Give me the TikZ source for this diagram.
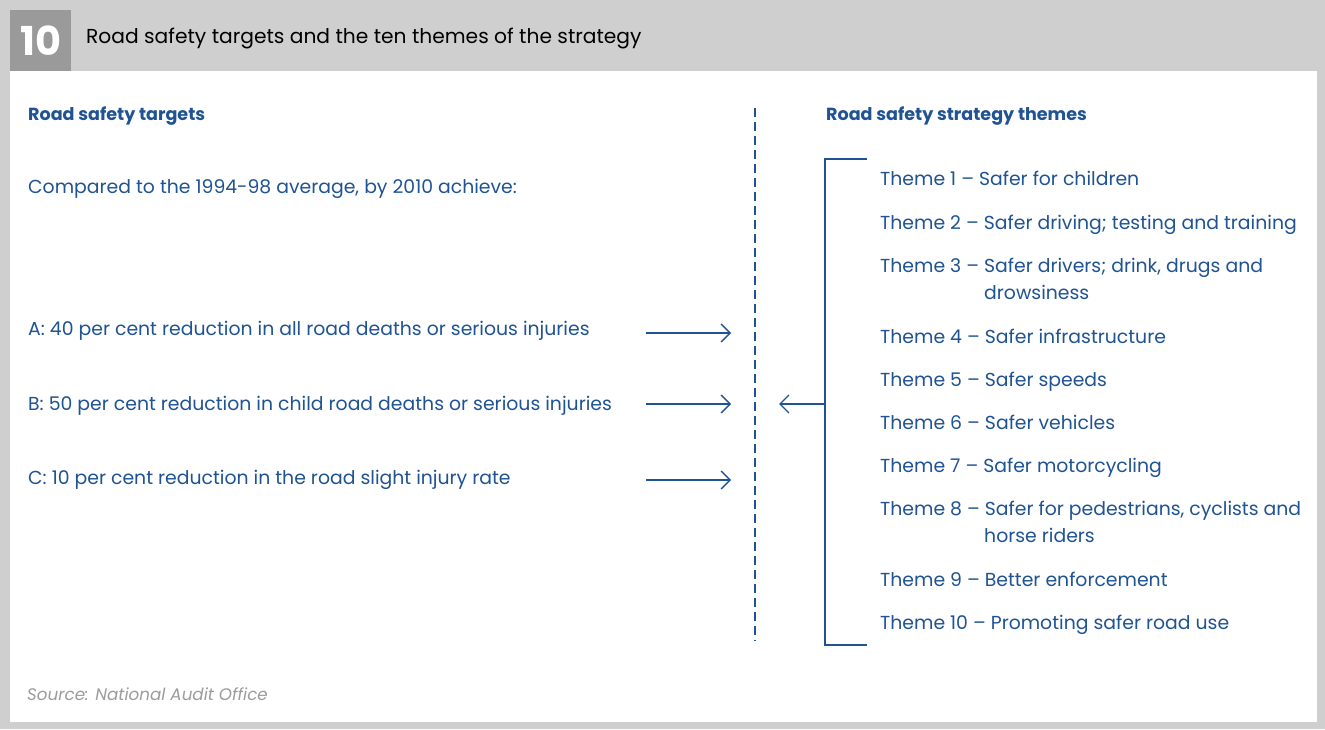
\documentclass[tikz,border=0pt]{standalone}
\usepackage{fontspec}
\setmainfont{Poppins}
\usetikzlibrary{arrows.meta}
\definecolor{frame}{HTML}{CFCFCF}
\definecolor{numbox}{HTML}{9A9A9A}
\definecolor{navy}{HTML}{1F5393}
\definecolor{srcgrey}{HTML}{9C9C9C}
\tikzset{
  txt/.style={anchor=base west, inner sep=0pt, text=navy, font=\fontsize{18.9}{22}\selectfont},
  head/.style={anchor=base west, inner sep=0pt, text=navy, font=\fontsize{17.6}{20}\selectfont\bfseries},
  arr/.style={draw=navy, line width=1.4bp, -{Straight Barb[length=9bp,width=18bp,line width=1.3bp]}},
  brk/.style={draw=navy, line width=1.3bp},
  divider/.style={draw=navy, line width=2.2bp, dash pattern=on 9bp off 5bp}
}
\begin{document}
\begin{tikzpicture}[x=1bp,y=-1bp]
\useasboundingbox (0,0) rectangle (1325,729);
\fill[frame] (0,0) rectangle (1325,729);
\fill[white] (10,71) rectangle (1317,722);
\node[fill=numbox, minimum width=61bp, minimum height=61bp, inner sep=0pt, anchor=north west, text=white, font=\fontsize{40}{40}\selectfont\bfseries] (num) at (10,10) {10};
\node[anchor=base west, inner sep=0pt, font=\fontsize{20.3}{24}\selectfont] (title) at (86,44) {Road safety targets and the ten themes of the strategy};

\node[head] (lh) at (28,121) {Road safety targets};
\node[txt] (cmp) at (28,193) {Compared to the 1994-98 average, by 2010 achieve:};
\node[txt] (ta) at (28,335) {A: 40 per cent reduction in all road deaths or serious injuries};
\node[txt] (tb) at (28,410) {B: 50 per cent reduction in child road deaths or serious injuries};
\node[txt] (tc) at (28,484) {C: 10 per cent reduction in the road slight injury rate};

\coordinate (as) at (646,333); \coordinate (ae) at (731,333);
\coordinate (bs) at (646,404); \coordinate (be) at (731,404);
\coordinate (cs) at (646,480); \coordinate (ce) at (731,480);
\draw[arr] (as) -- (ae);
\draw[arr] (bs) -- (be);
\draw[arr] (cs) -- (ce);

\coordinate (dtop) at (755,108); \coordinate (dbot) at (755,641);
\draw[divider] (dtop) -- (dbot);

\node[head] (rh) at (826,121) {Road safety strategy themes};

\coordinate (bt) at (867,159); \coordinate (btl) at (825,159);
\coordinate (bbl) at (825,645); \coordinate (bb) at (867,645);
\coordinate (bm) at (825,404); \coordinate (lm) at (779,404);
\draw[brk] (bt) -- (btl) -- (bbl) -- (bb);
\draw[arr] (bm) -- (lm);

\node[txt] (t1) at (880,185) {Theme 1 – Safer for children};
\node[txt] (t2) at (880,229) {Theme 2 – Safer driving; testing and training};
\node[txt] (t3) at (880,272) {Theme 3 – Safer drivers; drink, drugs and};
\node[txt] (t3b) at (984,299) {drowsiness};
\node[txt] (t4) at (880,343) {Theme 4 – Safer infrastructure};
\node[txt] (t5) at (880,386) {Theme 5 – Safer speeds};
\node[txt] (t6) at (880,429) {Theme 6 – Safer vehicles};
\node[txt] (t7) at (880,472) {Theme 7 – Safer motorcycling};
\node[txt] (t8) at (880,515) {Theme 8 – Safer for pedestrians, cyclists and};
\node[txt] (t8b) at (984,542) {horse riders};
\node[txt] (t9) at (880,586) {Theme 9 – Better enforcement};
\node[txt] (t10) at (880,629) {Theme 10 – Promoting safer road use};

\node[anchor=base west, inner sep=0pt, text=srcgrey, font=\fontsize{16.8}{19}\selectfont\itshape] (src) at (27,700) {Source: National Audit Office};
\end{tikzpicture}
\end{document}
